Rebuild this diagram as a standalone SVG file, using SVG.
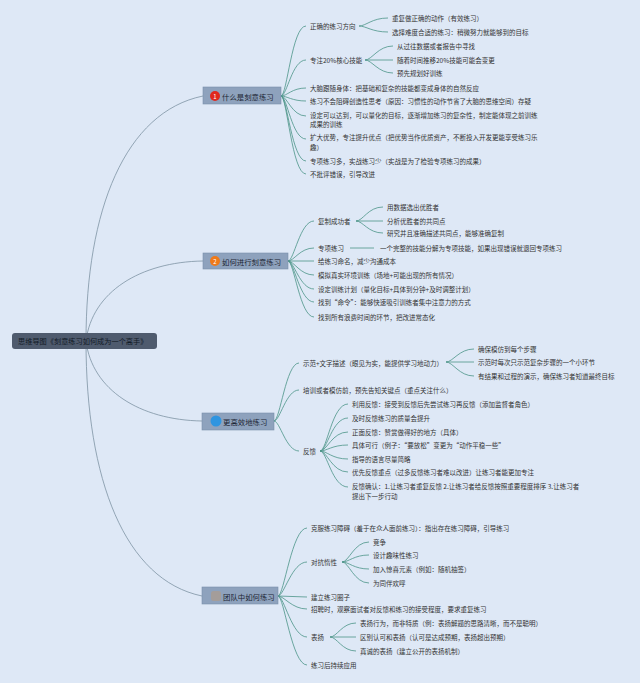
<svg xmlns="http://www.w3.org/2000/svg" width="640" height="683" viewBox="0 0 640 683">
<style>
text{font-family:"Noto Sans CJK SC","Noto Sans",sans-serif;dominant-baseline:central}
.t{font-size:6.5px;fill:#333}
.m{font-size:7.4px;fill:#1c2533}
.r{font-size:7.2px;fill:#111a26}
.box{fill:#8ea2bd;stroke:#7a8fab;stroke-width:0.6}
.rl{fill:none;stroke:#7d93a3;stroke-width:0.8}
.bl{fill:none;stroke:#4b9488;stroke-width:0.8}
.bn{font-size:6px;fill:#fff;text-anchor:middle}
</style>
<rect width="640" height="683" fill="#dee8f6"/>
<g id="connectors">
<path class="rl" d="M86,341 C86,210 125,112 203,96"/>
<path class="rl" d="M86,341 C92,292 140,262 203,261"/>
<path class="rl" d="M86,341 C92,390 140,420 202,421"/>
<path class="rl" d="M86,341 C86,480 125,580 202,596"/>
<path class="bl" d="M281,96 C287,96 292,26 306,26 M281,96 C287,96 292,60 306,60 M281,96 C287,96 292,88 306,88 M281,96 C287,96 292,101 306,101 M281,96 C287,96 292,116 306,116 M281,96 C287,96 292,139 306,139 M281,96 C287,96 292,161 306,161 M281,96 C287,96 292,174 306,174"/>
<path class="bl" d="M359,26 C366,26 372,18 388,18 M359,26 C366,26 372,32 388,32"/>
<path class="bl" d="M365,60 C372,60 378,46 393,46 M365,60 L393,60 M365,60 C372,60 378,73 393,73"/>
<path class="bl" d="M288,261 C294,261 300,221 314,221 M288,261 C294,261 300,248 314,248 M288,261 L314,261 M288,261 C294,261 300,275 314,275 M288,261 C294,261 300,289 314,289 M288,261 C294,261 300,302 314,302 M288,261 C294,261 300,317 314,317"/>
<path class="bl" d="M356,221 C363,221 368,207 383,207 M356,221 L383,221 M356,221 C363,221 368,233 383,233"/>
<path class="bl" d="M350,248 L374,248"/>
<path class="bl" d="M274,421 C280,421 286,363 299,363 M274,421 C280,421 286,390 299,390 M274,421 C280,421 286,451 299,451"/>
<path class="bl" d="M446,362 C453,362 459,349 474,349 M446,362 L474,362 M446,362 C453,362 459,376 474,376"/>
<path class="bl" d="M320,451 C327,451 332,404 348,404 M320,451 C327,451 332,418 348,418 M320,451 C327,451 332,432 348,432 M320,451 C327,451 332,445 348,445 M320,451 C327,451 332,459 348,459 M320,451 C327,451 332,472 348,472 M320,451 C327,451 332,487 348,487"/>
<path class="bl" d="M278,596 C284,596 292,528 307,528 M278,596 C284,596 292,562 307,562 M278,596 L307,597 M278,596 C284,596 292,609 307,609 M278,596 C284,596 292,637 307,637 M278,596 C284,596 292,665 307,665"/>
<path class="bl" d="M342,562 C349,562 354,542 369,542 M342,562 C349,562 354,555 369,555 M342,562 C349,562 354,569 369,569 M342,562 C349,562 354,583 369,583"/>
<path class="bl" d="M330,637 C337,637 342,623 356,623 M330,637 L356,637 M330,637 C337,637 342,651 356,651"/>
</g>
<g id="root">
<rect x="12" y="333" width="145" height="16" rx="3" fill="#4f5b6e"/>
<text class="r" x="18" y="341">思维导图《刻意练习如何成为一个高手》</text>
</g>
<g id="n1">
<rect class="box" x="203" y="87" width="78" height="17"/>
<circle cx="215" cy="96" r="5" fill="#e0281e"/>
<text class="bn" x="215" y="96">1</text>
<text class="m" x="222" y="96">什么是刻意练习</text>
</g>
<g id="n1c">
<text class="t" x="310" y="26">正确的练习方向</text>
<text class="t" x="392" y="18">重复做正确的动作（有效练习）</text>
<text class="t" x="392" y="32">选择难度合适的练习：稍微努力就能够到的目标</text>
<text class="t" x="310" y="60">专注20%核心技能</text>
<text class="t" x="397" y="46">从过往数据或者报告中寻找</text>
<text class="t" x="397" y="60">随着时间推移20%技能可能会变更</text>
<text class="t" x="397" y="73">预先规划好训练</text>
<text class="t" x="310" y="88">大脑跟随身体：把基础和复杂的技能都变成身体的自然反应</text>
<text class="t" x="310" y="101">练习不会阻碍创造性思考（原因：习惯性的动作节省了大脑的思维空间）存疑</text>
<text class="t" x="310" y="115">设定可以达到，可以量化的目标，逐渐增加练习的复杂性，制定能体现之前训练<tspan x="310" y="124">成果的训练</tspan></text>
<text class="t" x="310" y="137">扩大优势，专注提升优点（把优势当作优质资产，不断投入开发更能享受练习乐<tspan x="310" y="147">趣）</tspan></text>
<text class="t" x="310" y="161">专项练习多，实战练习少（实战是为了检验专项练习的成果）</text>
<text class="t" x="310" y="174">不批评错误，引导改进</text>
</g>
<g id="n2">
<rect class="box" x="203" y="253" width="85" height="16"/>
<circle cx="215" cy="261" r="5" fill="#ef7a1a"/>
<text class="bn" x="215" y="261">2</text>
<text class="m" x="222" y="261">如何进行刻意练习</text>
</g>
<g id="n2c">
<text class="t" x="318" y="221">复制成功者</text>
<text class="t" x="387" y="207">用数据选出优胜者</text>
<text class="t" x="387" y="221">分析优胜者的共同点</text>
<text class="t" x="387" y="233">研究并且准确描述共同点，能够准确复制</text>
<text class="t" x="318" y="248">专项练习</text>
<text class="t" x="380" y="248">一个完整的技能分解为专项技能，如果出现错误就退回专项练习</text>
<text class="t" x="318" y="261">给练习命名，减少沟通成本</text>
<text class="t" x="318" y="275">模拟真实环境训练（场地+可能出现的所有情况）</text>
<text class="t" x="318" y="289">设定训练计划（量化目标+具体到分钟+及时调整计划）</text>
<text class="t" x="318" y="302">找到“命令”：能够快速吸引训练者集中注意力的方式</text>
<text class="t" x="318" y="317">找到所有浪费时间的环节，把改进常态化</text>
</g>
<g id="n3">
<rect class="box" x="202" y="413" width="72" height="17"/>
<circle cx="216" cy="421" r="5.5" fill="#2f95e0"/>
<text class="m" x="223" y="421">更高效地练习</text>
</g>
<g id="n3c">
<text class="t" x="303" y="363">示范+文字描述（眼见为实，能提供学习地动力）</text>
<text class="t" x="478" y="349">确保模仿到每个步骤</text>
<text class="t" x="478" y="362">示范时每次只示范复杂步骤的一个小环节</text>
<text class="t" x="478" y="376">有结果和过程的演示，确保练习者知道最终目标</text>
<text class="t" x="303" y="390">培训或者模仿前，预先告知关键点（重点关注什么）</text>
<text class="t" x="303" y="451">反馈</text>
<text class="t" x="352" y="404">利用反馈：接受到反馈后先尝试练习再反馈（添加监督者角色）</text>
<text class="t" x="352" y="418">及时反馈练习的质量会提升</text>
<text class="t" x="352" y="432">正面反馈：赞赏做得好的地方（具体）</text>
<text class="t" x="352" y="445">具体可行（例子：“要放松”变更为“动作平稳一些”</text>
<text class="t" x="352" y="459">指导的语言尽量简略</text>
<text class="t" x="352" y="472">优先反馈重点（过多反馈练习者难以改进）让练习者能更加专注</text>
<text class="t" x="352" y="486">反馈确认：1.让练习者重复反馈 2.让练习者给反馈按照重要程度排序 3.让练习者<tspan x="352" y="496">提出下一步行动</tspan></text>
</g>
<g id="n4">
<rect class="box" x="202" y="587" width="76" height="17"/>
<rect x="211" y="591" width="10" height="10" rx="2.5" fill="#a49d9a"/>
<text class="m" x="223" y="596">团队中如何练习</text>
</g>
<g id="n4c">
<text class="t" x="311" y="528">克服练习障碍（羞于在众人面前练习）：指出存在练习障碍，引导练习</text>
<text class="t" x="311" y="562">对抗惰性</text>
<text class="t" x="373" y="542">竞争</text>
<text class="t" x="373" y="555">设计趣味性练习</text>
<text class="t" x="373" y="569">加入惊喜元素（例如：随机抽签）</text>
<text class="t" x="373" y="583">为同伴欢呼</text>
<text class="t" x="311" y="597">建立练习圈子</text>
<text class="t" x="311" y="609">招聘时，观察面试者对反馈和练习的接受程度，要求重复练习</text>
<text class="t" x="311" y="637">表扬</text>
<text class="t" x="360" y="623">表扬行为，而非特质（例：表扬解题的思路清晰，而不是聪明）</text>
<text class="t" x="360" y="637">区别认可和表扬（认可是达成预期，表扬超出预期）</text>
<text class="t" x="360" y="651">真诚的表扬（建立公开的表扬机制）</text>
<text class="t" x="311" y="665">练习后持续应用</text>
</g>
</svg>
